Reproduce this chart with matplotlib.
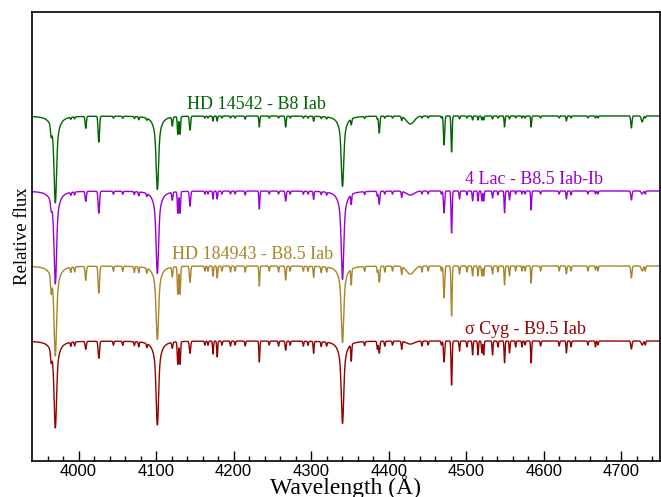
import numpy as np
import matplotlib
matplotlib.use("Agg")
import matplotlib.pyplot as plt
from matplotlib import font_manager

# ---------------- data ----------------
names = ["HD 14542 - B8 Iab", "4 Lac - B8.5 Iab-Ib", "HD 184943 - B8.5 Iab", "σ Cyg - B9.5 Iab"]
colors = ["#006400", "#9a00d6", "#a8852a", "#960000"]
offsets = [2.5, 2.0, 1.5, 1.0]
label_x = [4140, 4499, 4121, 4499]
label_dy = [0.045, 0.045, 0.045, 0.045]

# Balmer lines: centre (A) and depth per star (green, purple, gold, red)
balmer_wl = [3970.1, 4101.7, 4340.5]
balmer_green = [0.58, 0.49, 0.47]
balmer_purple = [0.62, 0.55, 0.59]
balmer_gold = [0.60, 0.49, 0.51]
balmer_red = [0.58, 0.56, 0.55]

# Metal / helium lines: centre, gaussian sigma (A), depths per star
line_wl = [3964.7, 4009.3, 4026.2, 4121.0, 4128.1, 4130.9, 4143.8, 4173.5, 4178.9,
           4233.2, 4267.2, 4303.2, 4351.8, 4385.4, 4387.9, 4416.8, 4428.0, 4471.5,
           4481.2, 4491.4, 4508.3, 4515.3, 4520.2, 4522.6, 4534.0, 4549.5, 4555.9,
           4563.8, 4572.0, 4583.8, 4629.3, 4635.3, 4666.8, 4713.1, 4727.0]
line_sig = [0.8, 0.8, 0.9, 0.7, 0.7, 0.7, 0.8, 0.6, 0.6,
            0.6, 0.7, 0.6, 0.6, 0.6, 0.8, 0.6, 5.0, 0.8,
            0.7, 0.6, 0.6, 0.6, 0.6, 0.6, 0.6, 0.6, 0.6,
            0.5, 0.5, 0.6, 0.6, 0.6, 0.5, 0.8, 1.2]
depth_green = [10, 12, 26, 9, 18, 18, 14, 5, 5, 11, 11, 5, 6, 3, 17, 4, 8, 29,
               36, 3, 4, 4, 4, 4, 3, 11, 3, 2, 2, 11, 5, 2, 2, 12, 6]
depth_purple = [8, 10, 22, 8, 22, 22, 15, 8, 8, 18, 10, 8, 10, 5, 13, 6, 4, 22,
                42, 8, 10, 10, 10, 10, 7, 22, 9, 3, 3, 19, 8, 4, 3, 9, 3]
depth_gold = [17, 14, 27, 10, 28, 28, 16, 10, 12, 20, 14, 11, 16, 6, 16, 8, 8, 32,
              50, 8, 10, 10, 10, 10, 8, 19, 10, 5, 5, 17, 8, 5, 4, 12, 5]
depth_red = [11, 8, 17, 6, 23, 23, 12, 13, 16, 21, 9, 12, 17, 8, 12, 8, 3, 21,
             44, 10, 14, 14, 12, 14, 14, 22, 12, 6, 6, 22, 12, 6, 6, 8, 4]

# weak lines giving the spectra their texture
weak_wl = [3990, 3995, 4045, 4057, 4072, 4077.7, 4088, 4163, 4167, 4185, 4196, 4202,
           4215, 4246, 4258, 4273, 4290, 4296, 4313, 4320, 4369, 4395, 4405, 4443,
           4451, 4468, 4501, 4541, 4576, 4596, 4620, 4657, 4670, 4731]
weak_green = [2, 2, 2, 2, 2, 3, 2, 2, 2, 2, 2, 2, 3, 2, 2, 2, 2, 2, 2, 2, 2, 2, 2, 2,
              2, 2, 2, 2, 2, 2, 2, 2, 2, 2]
weak_purple = [3, 3, 3, 3, 3, 4, 3, 3, 3, 3, 3, 3, 4, 3, 3, 3, 3, 3, 3, 3, 3, 3, 3, 3,
               3, 3, 4, 4, 3, 3, 3, 3, 3, 3]
weak_gold = [5, 5, 5, 5, 6, 6, 5, 5, 5, 5, 6, 5, 6, 5, 6, 5, 5, 5, 6, 5, 5, 6, 5, 6,
             5, 5, 6, 6, 5, 5, 5, 5, 5, 5]
weak_red = [4, 4, 4, 4, 4, 5, 4, 4, 4, 4, 5, 4, 5, 4, 5, 4, 5, 4, 5, 4, 4, 5, 4, 5,
            4, 4, 6, 6, 4, 5, 5, 4, 4, 4]

x_ticks = [4000, 4100, 4200, 4300, 4400, 4500, 4600, 4700]
px_per_unit = 150.0

# ---------------- build spectra ----------------
wl = np.arange(3940.0, 4750.0, 0.2)


def spectrum(bal, dep, weak):
    f = np.ones_like(wl)
    for c, d in zip(balmer_wl, bal):
        x = wl - c
        prof = 0.6 * np.exp(-0.5 * (x / 1.4) ** 2) + 0.4 / (1 + (x / 4.0) ** 2)
        f *= 1 - d * prof
    for c, s, d in zip(line_wl, line_sig, dep):
        f *= 1 - d / px_per_unit * np.exp(-0.5 * ((wl - c) / s) ** 2)
    for c, d in zip(weak_wl, weak):
        f *= 1 - d / px_per_unit * np.exp(-0.5 * ((wl - c) / 0.6) ** 2)
    return f


specs = [spectrum(balmer_green, depth_green, weak_green),
         spectrum(balmer_purple, depth_purple, weak_purple),
         spectrum(balmer_gold, depth_gold, weak_gold),
         spectrum(balmer_red, depth_red, weak_red)]

# ---------------- plot ----------------
serif = ["Liberation Serif", "DejaVu Serif"]
avail = {f.name for f in font_manager.fontManager.ttflist}
tickfont = "Liberation Sans Narrow" if "Liberation Sans Narrow" in avail else "Liberation Sans"

fig = plt.figure(figsize=(6.61, 4.97), dpi=100)
ax = fig.add_axes([32 / 661, 36 / 497, 628 / 661, 449 / 497])

for spec, off, col in zip(specs, offsets, colors):
    ax.plot(wl, spec - 1 + off, color=col, lw=1.0)

for name, off, col, lx, dy in zip(names, offsets, colors, label_x, label_dy):
    ax.text(lx, off + dy, name, color=col, fontsize=13, family=serif,
            ha="left", va="baseline")

ax.set_xlim(3940, 4750)
ax.set_ylim(0.2, 3.193)
ax.set_yticks([])
ax.set_xticks(x_ticks)
ax.set_xticks(np.arange(3960, 4750, 20), minor=True)
ax.tick_params(axis="x", which="major", direction="in", length=7, width=1,
               labelsize=12, pad=2)
ax.tick_params(axis="x", which="minor", direction="in", length=3.5, width=1)
for lab in ax.get_xticklabels():
    lab.set_family(tickfont)
for sp in ax.spines.values():
    sp.set_linewidth(1.2)

ax.set_xlabel("Wavelength (Å)", fontsize=17, family=serif, labelpad=-3)
ax.set_ylabel("Relative flux", fontsize=13.5, family=serif, labelpad=1)

fig.savefig("out.png", dpi=100)
